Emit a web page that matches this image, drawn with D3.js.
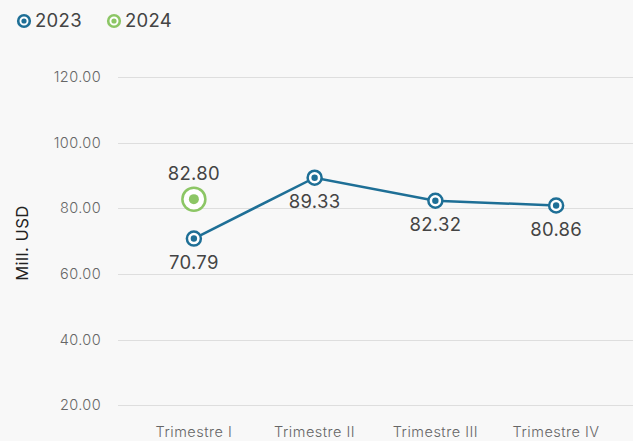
<!DOCTYPE html>
<html>
<head>
<meta charset="utf-8">
<script src="https://cdn.jsdelivr.net/npm/d3@7"></script>
<style>
  body { margin: 0; background: #f8f8f8; }
  svg { display: block; font-family: Inter, "Open Sans", sans-serif; }
</style>
</head>
<body>
<div id="chart"></div>
<script>
const quarters = ['Trimestre I', 'Trimestre II', 'Trimestre III', 'Trimestre IV'];
const values2023 = [70.79, 89.33, 82.32, 80.86];
const values2024 = [82.80, null, null, null];
const yTicks = [20, 40, 60, 80, 100, 120];

const W = 633, H = 441;
const colors = { y2023: '#1e6f96', y2024: '#8cc665' };

const svg = d3.select('#chart').append('svg')
	.attr('width', W)
	.attr('height', H);

svg.append('rect').attr('width', W).attr('height', H).attr('fill', '#f8f8f8');

const x = d3.scaleBand()
	.domain(quarters)
	.range([133.5, 616.5]);
const y = d3.scaleLinear()
	.domain([0, 120])
	.range([471, 77]);

// grid lines
svg.append('g')
	.selectAll('line')
	.data(yTicks)
	.join('line')
	.attr('x1', 118).attr('x2', W)
	.attr('y1', d => Math.round(y(d)) + 0.5)
	.attr('y2', d => Math.round(y(d)) + 0.5)
	.attr('stroke', '#dedede');

// y axis labels
const yAxis = svg.append('g')
	.attr('transform', 'translate(101,0)')
	.call(d3.axisLeft(y).tickValues(yTicks).tickFormat(d3.format('.2f')).tickSize(0).tickPadding(0));
yAxis.select('.domain').remove();
yAxis.selectAll('text')
	.attr('font-size', 14.5)
	.attr('font-weight', 300)
	.attr('letter-spacing', 0.4)
	.attr('fill', '#666')
	.attr('font-family', 'Inter, sans-serif');

svg.append('text')
	.attr('transform', 'translate(28,243) rotate(-90)')
	.attr('text-anchor', 'middle')
	.attr('font-size', 16.5)
	.attr('letter-spacing', 0.5)
	.attr('fill', '#222')
	.text('Mill. USD');

// x axis labels
const xAxis = svg.append('g')
	.attr('transform', 'translate(0,427)')
	.call(d3.axisBottom(x).tickSize(0).tickPadding(0));
xAxis.select('.domain').remove();
xAxis.selectAll('text')
	.attr('dy', '0.71em')
	.attr('font-size', 14.5)
	.attr('font-weight', 300)
	.attr('letter-spacing', 0.5)
	.attr('fill', '#666')
	.attr('font-family', 'Inter, sans-serif');

// 2023 line
const pts2023 = values2023.map((v, i) => ({ q: quarters[i], v }));
svg.append('path')
	.datum(pts2023)
	.attr('fill', 'none')
	.attr('stroke', colors.y2023)
	.attr('stroke-width', 2.5)
	.attr('d', d3.line()
		.x(d => x(d.q) + x.bandwidth() / 2)
		.y(d => y(d.v)));

const g23 = svg.append('g')
	.selectAll('g')
	.data(pts2023)
	.join('g')
	.attr('transform', d => `translate(${x(d.q) + x.bandwidth() / 2},${y(d.v)})`);
g23.append('circle').attr('r', 7).attr('fill', '#fff').attr('stroke', colors.y2023).attr('stroke-width', 2.5);
g23.append('circle').attr('r', 3.2).attr('fill', colors.y2023);
g23.append('text')
	.attr('y', 24)
	.attr('dy', '0.35em')
	.attr('text-anchor', 'middle')
	.attr('font-size', 18.5)
	.attr('letter-spacing', 0.3)
	.attr('fill', '#444')
	.text(d => d3.format('.2f')(d.v));

// 2024 point(s)
const pts2024 = values2024.map((v, i) => ({ q: quarters[i], v })).filter(d => d.v != null);
const g24 = svg.append('g')
	.selectAll('g')
	.data(pts2024)
	.join('g')
	.attr('transform', d => `translate(${x(d.q) + x.bandwidth() / 2},${y(d.v)})`);
g24.append('circle').attr('r', 11.5).attr('fill', '#fff').attr('stroke', colors.y2024).attr('stroke-width', 2.5);
g24.append('circle').attr('r', 5).attr('fill', colors.y2024);
g24.append('text')
	.attr('y', -26)
	.attr('dy', '0.35em')
	.attr('text-anchor', 'middle')
	.attr('font-size', 18.5)
	.attr('letter-spacing', 0.3)
	.attr('fill', '#444')
	.text(d => d3.format('.2f')(d.v));

// legend
const legendItems = [
	{ label: '2023', color: colors.y2023, x: 24 },
	{ label: '2024', color: colors.y2024, x: 114 }
];
const lg = svg.append('g')
	.selectAll('g')
	.data(legendItems)
	.join('g')
	.attr('transform', d => `translate(${d.x},21)`);
lg.append('circle').attr('r', 5.8).attr('fill', '#fff').attr('stroke', d => d.color).attr('stroke-width', 2.6);
lg.append('circle').attr('r', 2.6).attr('fill', d => d.color);
lg.append('text')
	.attr('x', 11)
	.attr('dy', '0.35em')
	.attr('font-size', 18.5)
	.attr('letter-spacing', 0.3)
	.attr('fill', '#444')
	.text(d => d.label);
</script>
</body>
</html>
